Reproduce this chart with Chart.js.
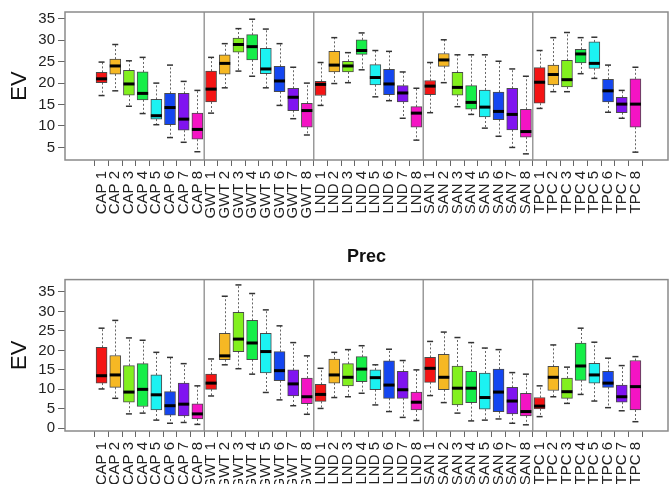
<!DOCTYPE html>
<html>
<head>
<meta charset="utf-8">
<script src="https://cdn.jsdelivr.net/npm/chart.js@4"></script>
<style>
  body { margin: 0; background: #fff; }
  #wrap { position: relative; width: 670px; height: 484px; overflow: hidden; }
  canvas { position: absolute; left: 0; }
  #evChart { top: 0; }
  #precChart { top: 235px; }
</style>
</head>
<body>
<div id="wrap">
  <canvas id="evChart" width="670" height="232"></canvas>
  <canvas id="precChart" width="670" height="249"></canvas>
</div>
<script>
const categories = [
    'CAP 1', 'CAP 2', 'CAP 3', 'CAP 4', 'CAP 5', 'CAP 6', 'CAP 7', 'CAP 8',
    'GWT 1', 'GWT 2', 'GWT 3', 'GWT 4', 'GWT 5', 'GWT 6', 'GWT 7', 'GWT 8',
    'LND 1', 'LND 2', 'LND 3', 'LND 4', 'LND 5', 'LND 6', 'LND 7', 'LND 8',
    'SAN 1', 'SAN 2', 'SAN 3', 'SAN 4', 'SAN 5', 'SAN 6', 'SAN 7', 'SAN 8',
    'TPC 1', 'TPC 2', 'TPC 3', 'TPC 4', 'TPC 5', 'TPC 6', 'TPC 7', 'TPC 8',
];
const groupBreaks = [8.5, 16.5, 24.5, 32.5];

// top panel (EV)
const evMin = [17.1, 18.2, 14.6, 12.9, 10.3, 7.3, 6.2, 4.0, 13.0, 18.9, 22.8, 21.6, 18.9, 14.8, 11.7, 7.9, 14.8, 19.9, 20.1, 23.1, 16.8, 15.9, 11.8, 6.7, 13.1, 20.1, 14.5, 12.7, 9.5, 7.6, 5.0, 3.5, 14.1, 18.0, 18.0, 22.2, 21.1, 13.2, 11.8, 3.9];
const evQ1 = [20.1, 22.1, 17.2, 16.1, 11.6, 10.3, 9.0, 6.9, 15.6, 22.1, 27.2, 25.4, 22.2, 18.0, 13.6, 9.7, 17.1, 22.6, 22.6, 26.7, 19.6, 17.3, 15.6, 9.7, 17.3, 23.9, 17.2, 13.9, 12.1, 11.5, 9.1, 7.4, 15.3, 19.6, 19.1, 24.7, 23.4, 15.6, 13.1, 9.7];
const evMed = [21.0, 24.0, 19.8, 17.6, 12.4, 14.3, 11.6, 9.2, 18.6, 24.6, 29.0, 28.5, 23.3, 20.5, 16.7, 13.6, 19.7, 24.2, 24.0, 27.6, 21.3, 19.8, 17.7, 13.0, 19.3, 25.4, 19.0, 15.5, 14.4, 13.4, 12.7, 8.7, 20.2, 22.0, 20.8, 26.8, 24.6, 18.2, 15.1, 15.1];
const evQ3 = [22.5, 25.6, 23.0, 22.6, 16.2, 17.6, 17.6, 13.0, 22.8, 26.6, 30.5, 31.3, 28.1, 23.9, 18.8, 15.3, 20.4, 27.4, 25.1, 30.1, 24.3, 23.2, 19.4, 14.5, 20.6, 26.9, 22.5, 19.4, 18.4, 17.9, 18.8, 13.9, 23.6, 24.2, 25.3, 27.9, 29.6, 20.9, 16.7, 21.0];
const evMax = [24.9, 29.0, 25.2, 26.0, 20.0, 24.2, 20.4, 18.3, 26.0, 29.2, 32.7, 34.9, 32.6, 29.2, 23.7, 20.0, 24.8, 30.6, 27.1, 31.7, 27.6, 27.4, 22.6, 18.8, 24.8, 30.1, 26.6, 26.6, 26.6, 25.1, 23.3, 21.6, 27.6, 30.6, 31.8, 30.6, 30.7, 24.2, 18.3, 23.7];
const evTicks = [5, 10, 15, 20, 25, 30, 35];

// bottom panel (Prec)
const precMin = [10.1, 7.7, 3.7, 3.9, 2.1, 1.3, 1.5, 1.0, 8.3, 16.3, 15.3, 13.9, 9.2, 7.3, 5.8, 3.6, 5.1, 7.9, 8.1, 9.0, 6.0, 4.3, 2.8, 2.0, 8.4, 6.6, 3.9, 1.9, 2.1, 2.4, 1.3, 0.9, 3.0, 8.1, 6.4, 8.7, 7.0, 5.3, 4.5, 1.7];
const precQ1 = [11.6, 10.5, 6.7, 5.6, 4.7, 3.4, 3.2, 2.4, 10.0, 17.6, 19.7, 17.6, 14.2, 12.2, 8.3, 6.3, 6.9, 11.6, 10.9, 12.0, 9.9, 7.7, 7.7, 4.7, 11.8, 9.9, 6.0, 6.6, 4.9, 4.3, 3.7, 3.2, 5.0, 9.7, 7.7, 12.3, 11.6, 10.5, 6.7, 4.7];
const precMed = [13.5, 13.7, 9.3, 10.0, 8.6, 5.8, 6.2, 3.7, 11.6, 18.6, 22.9, 21.9, 19.7, 14.8, 11.4, 8.1, 8.7, 13.7, 13.1, 15.2, 13.0, 11.1, 9.9, 6.7, 15.4, 13.1, 10.3, 10.3, 7.9, 9.3, 7.0, 4.3, 5.7, 13.1, 9.4, 16.0, 13.7, 11.6, 8.1, 10.7];
const precQ3 = [20.8, 18.7, 16.1, 16.6, 13.7, 9.4, 11.6, 6.3, 13.9, 24.4, 29.8, 27.7, 24.4, 19.7, 15.0, 12.9, 11.3, 17.8, 16.6, 18.4, 15.0, 17.3, 14.6, 9.3, 18.2, 19.0, 16.0, 14.6, 14.2, 15.2, 10.5, 9.0, 7.9, 15.9, 12.9, 21.9, 16.7, 14.6, 11.1, 17.4];
const precMax = [25.7, 27.7, 23.2, 22.6, 19.5, 18.2, 16.6, 10.9, 17.8, 33.9, 36.8, 34.6, 30.4, 26.3, 22.0, 18.6, 15.4, 19.5, 20.2, 21.2, 16.3, 20.3, 17.4, 15.0, 22.3, 24.7, 23.3, 22.0, 20.6, 20.2, 14.3, 13.9, 10.9, 21.4, 15.7, 25.7, 22.1, 18.0, 16.1, 18.4];
const precTicks = [0, 5, 10, 15, 20, 25, 30, 35];

const boxColors = ['#f41414', '#f6b824', '#82f01e', '#16ee48', '#1cf2f2', '#1446f0', '#8014f0', '#f414c4'];
const FONT = 'Liberation Sans, Arial, sans-serif';
const BOX_W = 11;

// whiskers, staples, medians, group separators and frame
const boxExtras = {
    id: 'boxExtras',
    beforeDatasetsDraw(chart, args, opts) {
        const { ctx, chartArea: a, scales: { x, y } } = chart;
        ctx.save();
        ctx.strokeStyle = '#9a9a9a';
        ctx.lineWidth = 1.5;
        groupBreaks.forEach(b => {
            const px = x.getPixelForValue(b);
            ctx.beginPath();
            ctx.moveTo(px, a.top);
            ctx.lineTo(px, a.bottom);
            ctx.stroke();
        });
        ctx.strokeStyle = '#666';
        ctx.lineWidth = 1;
        ctx.setLineDash([2, 2]);
        opts.min.forEach((v, i) => {
            const px = Math.round(x.getPixelForValue(i + 1)) + 0.5;
            ctx.beginPath();
            ctx.moveTo(px, y.getPixelForValue(opts.q3[i]));
            ctx.lineTo(px, y.getPixelForValue(opts.max[i]));
            ctx.moveTo(px, y.getPixelForValue(opts.q1[i]));
            ctx.lineTo(px, y.getPixelForValue(v));
            ctx.stroke();
        });
        ctx.setLineDash([]);
        ctx.strokeStyle = '#333';
        ctx.lineWidth = 1.5;
        opts.min.forEach((v, i) => {
            const px = x.getPixelForValue(i + 1);
            [v, opts.max[i]].forEach(w => {
                const py = y.getPixelForValue(w);
                ctx.beginPath();
                ctx.moveTo(px - 3, py);
                ctx.lineTo(px + 3, py);
                ctx.stroke();
            });
        });
        ctx.restore();
    },
    afterDatasetsDraw(chart, args, opts) {
        const { ctx, scales: { x, y } } = chart;
        ctx.save();
        ctx.strokeStyle = '#000';
        ctx.lineWidth = 3;
        opts.med.forEach((v, i) => {
            const px = x.getPixelForValue(i + 1);
            const py = y.getPixelForValue(v);
            ctx.beginPath();
            ctx.moveTo(px - BOX_W / 2, py);
            ctx.lineTo(px + BOX_W / 2, py);
            ctx.stroke();
        });
        ctx.restore();
    },
    afterDraw(chart) {
        const { ctx, chartArea: a } = chart;
        ctx.save();
        ctx.strokeStyle = '#8a8a8a';
        ctx.lineWidth = 1.5;
        ctx.strokeRect(a.left, a.top, a.right - a.left, a.bottom - a.top);
        ctx.restore();
    }
};

function makeChart(id, stats, yMin, yMax, yTicks, xHeight, title) {
    return new Chart(document.getElementById(id), {
        type: 'bar',
        data: {
            datasets: [{
                data: stats.q1.map((v, i) => ({ x: i + 1, y: [v, stats.q3[i]] })),
                backgroundColor: categories.map((c, i) => boxColors[i % 8]),
                borderColor: 'rgba(30,30,30,0.8)',
                borderWidth: 1,
                borderSkipped: false,
                barThickness: BOX_W,
            }]
        },
        options: {
            responsive: false,
            animation: false,
            events: [],
            layout: { padding: { top: title ? 0 : 7, right: 2, left: 0, bottom: 0 } },
            plugins: {
                legend: { display: false },
                tooltip: { enabled: false },
                title: {
                    display: !!title,
                    text: title,
                    fullSize: false,
                    color: '#111',
                    font: { family: FONT, size: 18, weight: 'bold' },
                    padding: { top: 11, bottom: 12 }
                },
                boxExtras: stats
            },
            scales: {
                x: {
                    type: 'linear',
                    min: -1.12,
                    max: 41.83,
                    afterBuildTicks: s => { s.ticks = categories.map((c, i) => ({ value: i + 1 })); },
                    afterFit: s => { s.height = xHeight; },
                    grid: { drawOnChartArea: false, tickLength: 6, color: '#666' },
                    border: { display: false },
                    ticks: {
                        autoSkip: false,
                        maxRotation: 90,
                        minRotation: 90,
                        padding: 5,
                        color: '#222',
                        font: { family: FONT, size: 15 },
                        callback: v => categories[v - 1] || ''
                    }
                },
                y: {
                    min: yMin,
                    max: yMax,
                    afterBuildTicks: s => { s.ticks = yTicks.map(v => ({ value: v })); },
                    afterFit: s => { s.width = 65; },
                    grid: { drawOnChartArea: false, tickLength: 7, color: '#666' },
                    border: { display: false },
                    ticks: {
                        padding: 3,
                        color: '#222',
                        font: { family: FONT, size: 15 }
                    },
                    title: {
                        display: true,
                        text: 'EV',
                        color: '#111',
                        font: { family: FONT, size: 22 },
                        padding: { top: 7, bottom: 0 }
                    }
                }
            }
        },
        plugins: [boxExtras]
    });
}

makeChart('evChart', { min: evMin, q1: evQ1, med: evMed, q3: evQ3, max: evMax }, 2.07, 36.58, evTicks, 72, '');
makeChart('precChart', { min: precMin, q1: precQ1, med: precMed, q3: precQ3, max: precMax }, -0.69, 38.17, precTicks, 53, 'Prec');
</script>
</body>
</html>
